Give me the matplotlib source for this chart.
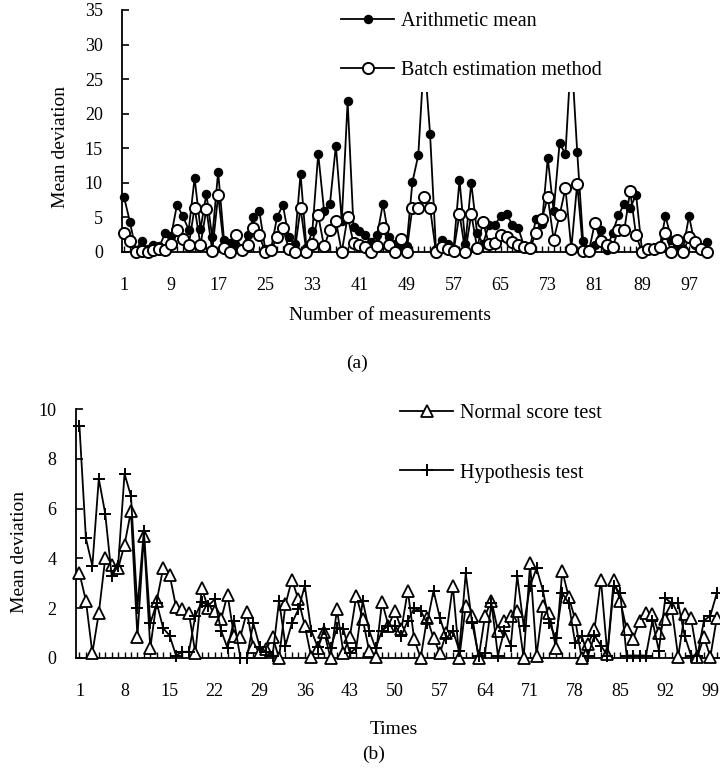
import matplotlib
matplotlib.use("Agg")
import matplotlib.pyplot as plt
from matplotlib.ticker import FixedLocator, NullFormatter

plt.rcParams['font.family'] = ['Liberation Serif', 'DejaVu Serif']

# ---------------- data (a) ----------------
measurements = list(range(1, 101))
arithmetic_mean = [
    8.0, 4.4, 0.3, 1.6, 0.5, 1.0, 0.8, 2.7, 2.3, 6.8,
    5.2, 3.2, 10.7, 3.3, 8.4, 2.1, 11.6, 1.7, 1.3, 0.8,
    0.3, 2.4, 5.0, 5.9, 0.4, 0.5, 5.0, 6.8, 2.1, 1.2,
    11.3, 0.6, 3.0, 14.2, 5.9, 7.0, 15.4, 4.5, 21.8, 3.6,
    3.0, 2.4, 1.4, 2.4, 7.0, 2.1, 1.2, 0.5, 0.8, 10.1,
    14.0, 28.5, 17.1, 0.5, 1.8, 1.2, 0.5, 10.4, 1.2, 10.0,
    2.7, 1.2, 3.9, 3.9, 5.2, 5.5, 3.9, 3.4, 0.8, 0.8,
    4.8, 4.0, 13.6, 5.9, 15.7, 14.2, 29.0, 14.5, 1.6, 0.5,
    1.0, 3.2, 0.3, 2.8, 5.3, 7.0, 6.3, 8.3, 0.3, 0.5,
    0.5, 0.7, 5.2, 1.8, 1.0, 0.5, 5.2, 1.0, 0.6, 1.5,
]
batch_estimation = [
    2.7, 1.6, 0.0, 0.2, 0.0, 0.3, 0.5, 0.3, 1.2, 3.2,
    1.9, 1.0, 6.4, 1.0, 6.2, 0.2, 8.2, 0.6, 0.0, 2.4,
    0.3, 1.0, 3.5, 2.4, 0.0, 0.3, 2.1, 3.5, 0.5, 0.0,
    6.4, 0.0, 1.2, 5.3, 0.8, 3.2, 4.5, 0.0, 5.1, 1.3,
    1.0, 0.7, 0.0, 0.8, 3.5, 1.0, 0.0, 1.9, 0.0, 6.4,
    6.4, 7.9, 6.4, 0.0, 0.7, 0.5, 0.1, 5.5, 0.0, 5.5,
    0.6, 4.3, 1.2, 1.3, 2.4, 2.2, 1.4, 1.0, 0.7, 0.6,
    2.7, 4.8, 7.9, 1.8, 5.3, 9.2, 0.5, 9.9, 0.2, 0.2,
    4.2, 1.6, 1.0, 0.7, 3.2, 3.2, 8.8, 2.4, 0.0, 0.5,
    0.5, 0.7, 2.7, 0.0, 1.7, 0.0, 2.1, 1.4, 0.5, 0.0,
]
xticks_a = list(range(1, 101, 8))
yticks_a = [0, 5, 10, 15, 20, 25, 30, 35]

# ---------------- data (b) ----------------
times = list(range(1, 101))
normal_score = [
    3.4, 2.3, 0.2, 1.8, 4.0, 3.75, 3.6, 4.55, 5.9, 0.85,
    4.9, 0.4, 2.3, 3.6, 3.35, 2.05, 1.95, 1.8, 0.2, 2.8,
    2.0, 1.9, 1.55, 2.55, 0.9, 0.85, 1.85, 0.45, 0.25, 0.35,
    0.85, 0.0, 2.15, 3.15, 2.35, 1.3, 0.05, 0.4, 1.05, 0.0,
    1.95, 0.2, 0.85, 2.5, 1.55, 0.3, 0.05, 2.25, 1.3, 1.9,
    1.15, 2.7, 0.75, 0.0, 1.6, 0.8, 0.2, 1.0, 2.9, 0.0,
    2.1, 1.7, 0.0, 1.7, 2.3, 1.1, 1.5, 1.7, 1.9, 0.0,
    3.8, 0.1, 2.1, 1.8, 0.4, 3.5, 2.45, 1.55, 0.0, 0.55,
    1.15, 3.15, 0.15, 3.15, 2.3, 1.15, 0.75, 1.5, 1.8, 1.75,
    1.0, 1.55, 2.0, 0.05, 1.75, 1.6, 0.05, 0.85, 0.05, 1.6,
]
hypothesis = [
    9.3, 4.8, 3.7, 7.2, 5.8, 3.3, 3.7, 7.4, 6.5, 2.0,
    5.1, 1.4, 2.2, 1.2, 0.9, 0.1, 0.25, 0.25, 1.7, 2.25,
    2.1, 2.35, 1.1, 0.4, 1.5, 0.0, 0.0, 1.4, 0.45, 0.25,
    0.1, 2.3, 0.5, 1.4, 1.95, 2.9, 1.1, 0.45, 1.15, 0.4,
    1.2, 1.15, 0.2, 0.4, 2.3, 1.1, 0.4, 1.1, 1.3, 1.3,
    0.9, 1.5, 2.0, 1.9, 1.4, 2.7, 1.6, 0.8, 1.1, 0.3,
    3.4, 1.4, 0.1, 0.2, 2.2, 0.1, 1.1, 0.5, 3.3, 1.3,
    2.9, 3.6, 2.7, 1.4, 0.8, 2.6, 2.2, 0.6, 0.9, 0.1,
    0.9, 0.5, 0.1, 2.9, 2.6, 0.1, 0.1, 0.1, 0.1, 1.5,
    0.3, 2.4, 2.2, 2.2, 0.9, 0.1, 0.1, 1.5, 1.7, 2.6,
]
xticks_b = list(range(1, 101, 7))
yticks_b = [0, 2, 4, 6, 8, 10]

# ---------------- figure ----------------
W, H = 720, 774
fig = plt.figure(figsize=(W / 100, H / 100), dpi=100)
fig.patch.set_facecolor('white')


def rect(l, t, r, b):
    return [l / W, 1 - b / H, (r - l) / W, (b - t) / H]


LW = 1.3
TICKFS = 13
LABFS = 14
LEGFS = 14.5


def style_axes(ax, xticks, yticks, xlim, ylim):
    ax.set_xlim(*xlim)
    ax.set_ylim(*ylim)
    for s in ('top', 'right'):
        ax.spines[s].set_visible(False)
    for s in ('left', 'bottom'):
        ax.spines[s].set_linewidth(1.3)
    ax.set_xticks(xticks)
    ax.set_xticklabels([str(v) for v in xticks])
    ax.xaxis.set_minor_locator(FixedLocator(list(range(1, 101))))
    ax.xaxis.set_minor_formatter(NullFormatter())
    ax.set_yticks(yticks)
    ax.set_yticklabels([str(v) for v in yticks])
    ax.tick_params(axis='x', which='both', direction='in', length=4, width=1.0,
                   pad=18, labelsize=TICKFS)
    ax.tick_params(axis='y', which='both', direction='in', length=5, width=1.2,
                   pad=14, labelsize=TICKFS)


# ----- (a) -----
ax1 = fig.add_axes(rect(122.2, 10, 712, 252))
style_axes(ax1, xticks_a, yticks_a, (0.7, 100.9), (0, 35))
ax1.plot(measurements, arithmetic_mean, color='black', lw=LW, marker='o',
         ms=5.8, mfc='black', mec='black', clip_on=False, zorder=3,
         label='Arithmetic mean')
ax1.plot(measurements, batch_estimation, color='black', lw=LW, marker='o',
         ms=8, mfc='white', mec='black', mew=1.4, clip_on=False, zorder=3,
         label='Batch estimation method')
leg1 = ax1.legend(loc='upper left', bbox_to_anchor=(330 / W, 1 - 1 / H),
                  bbox_transform=fig.transFigure, frameon=True, fancybox=False,
                  framealpha=1, facecolor='white', edgecolor='none',
                  fontsize=LEGFS, handlelength=2.63, handletextpad=0.35,
                  labelspacing=1.5, borderpad=0.55, borderaxespad=0)
leg1.set_zorder(10)
ax1.set_xlabel('Number of measurements', fontsize=LABFS, va='center')
ax1.xaxis.set_label_coords((390 - 122.2) / 589.8, (252 - 316) / 242)
ax1.set_ylabel('Mean deviation', fontsize=LABFS, va='center')
ax1.yaxis.set_label_coords((60.5 - 122.2) / 589.8, (252 - 147.5) / 242)
ax1.text((357 - 122.2) / 589.8, (252 - 363) / 242, '(a)', transform=ax1.transAxes,
         ha='center', va='center', fontsize=LABFS)

# ----- (b) -----
ax2 = fig.add_axes(rect(76, 409, 720, 658))
style_axes(ax2, xticks_b, yticks_b, (0.46, 100.5), (0, 10))
ax2.plot(times, normal_score, color='black', lw=LW, marker='^', ms=8.5,
         mfc='white', mec='black', mew=1.3, clip_on=False, zorder=3,
         label='Normal score test')
ax2.plot(times, hypothesis, color='black', lw=LW, marker='+', ms=8,
         mew=1.4, mec='black', clip_on=False, zorder=3,
         label='Hypothesis test')
leg2 = ax2.legend(loc='upper left', bbox_to_anchor=(392 / W, 1 - 396 / H),
                  bbox_transform=fig.transFigure, frameon=True, fancybox=False,
                  framealpha=1, facecolor='white', edgecolor='none',
                  fontsize=LEGFS, handlelength=2.63, handletextpad=0.35,
                  labelspacing=2.0, borderpad=0.4, borderaxespad=0)
leg2.set_zorder(10)
ax2.set_xlabel('Times', fontsize=LABFS, va='center')
ax2.xaxis.set_label_coords((394 - 76) / 644, (658 - 729) / 249)
ax2.set_ylabel('Mean deviation', fontsize=LABFS, va='center')
ax2.yaxis.set_label_coords((20 - 76) / 644, (658 - 552) / 249)
ax2.text((374 - 76) / 644, (658 - 754) / 249, '(b)', transform=ax2.transAxes,
         ha='center', va='center', fontsize=LABFS)

fig.savefig('out.png', dpi=100, facecolor='white')
